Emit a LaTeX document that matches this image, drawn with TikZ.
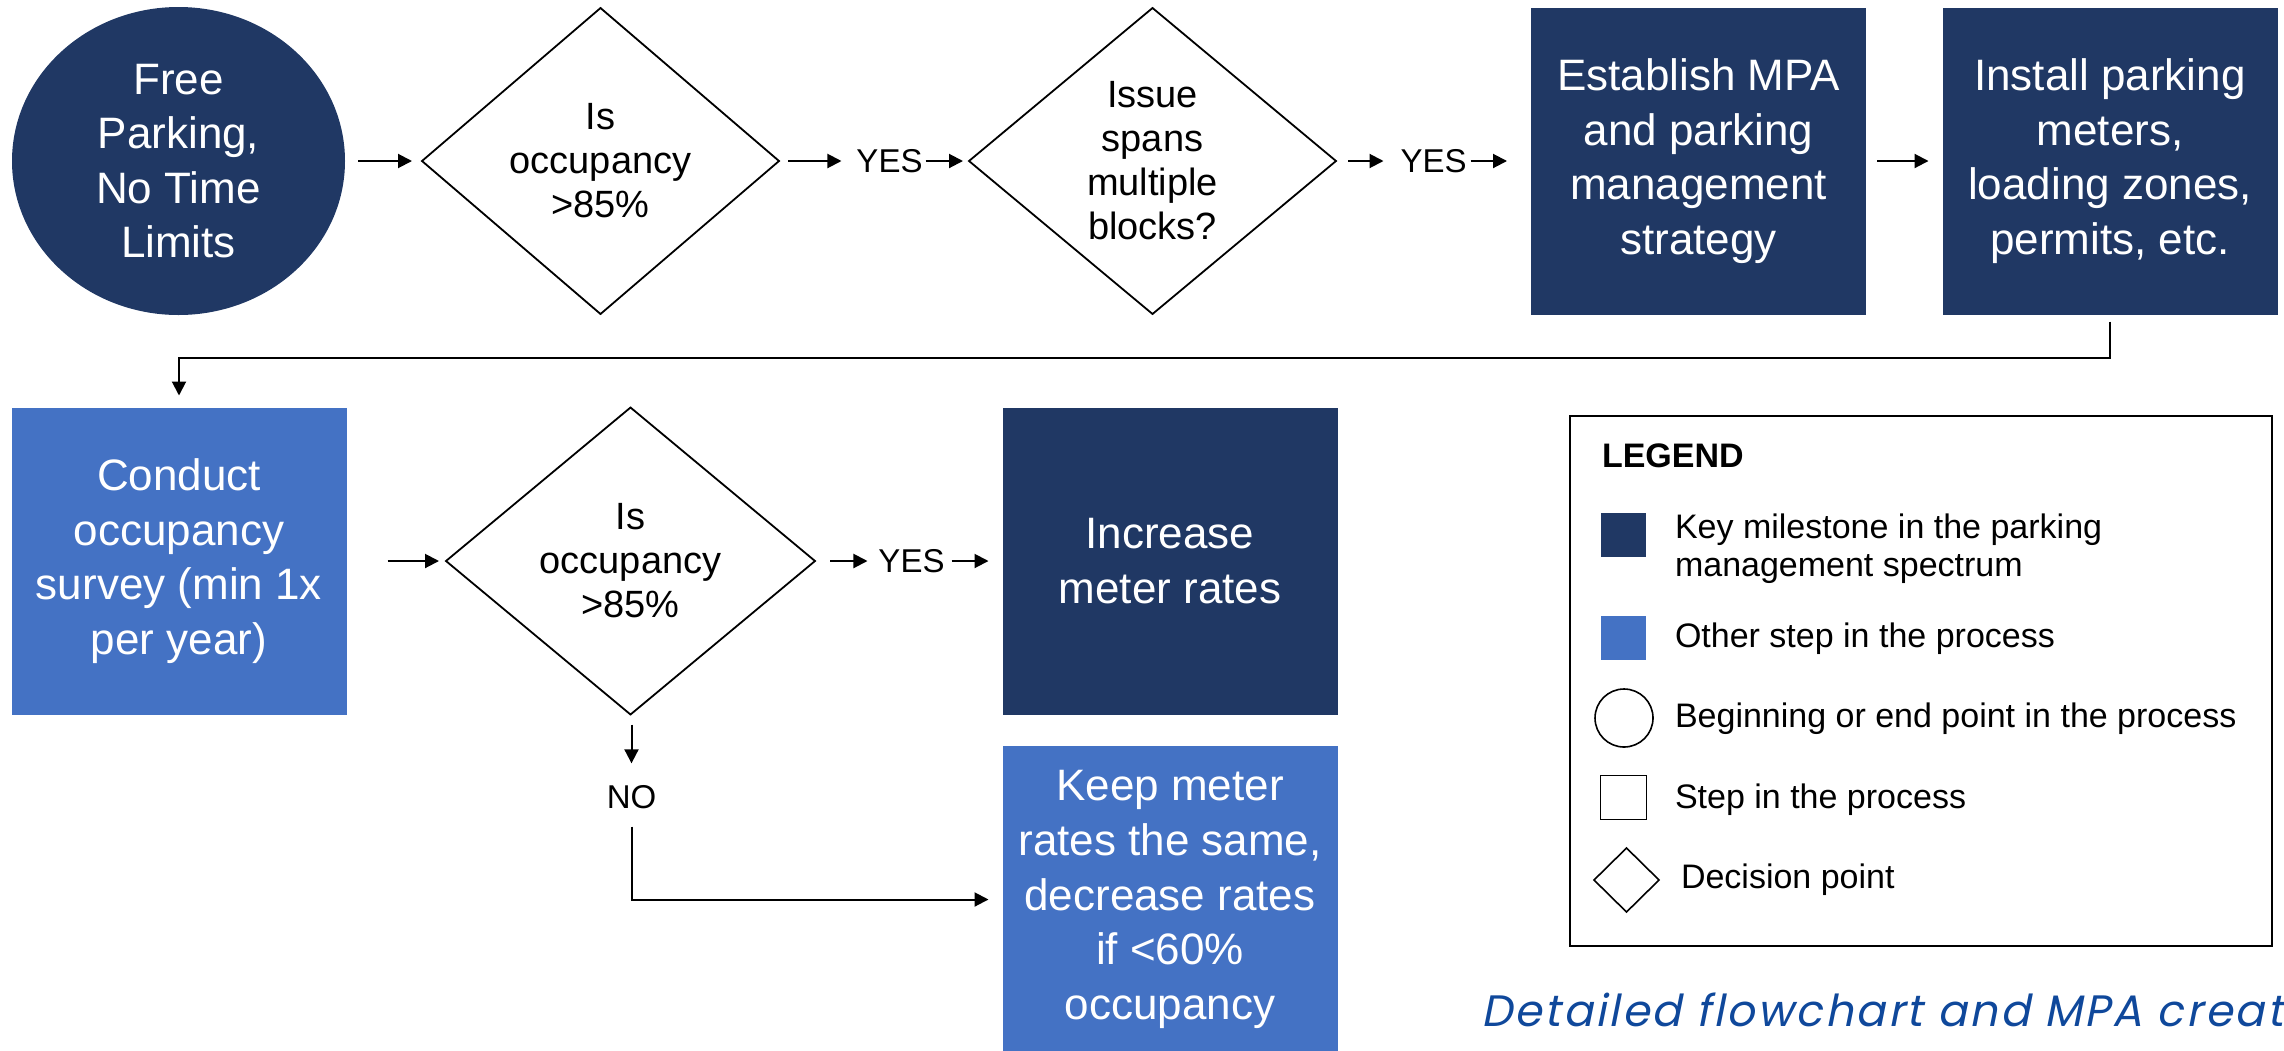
\documentclass[tikz,border=0pt]{standalone}
\usepackage{fontspec}
\setmainfont{Liberation Sans}
\newfontfamily\capfont[FakeSlant=0.2,LetterSpace=5.8]{Poppins}
\usetikzlibrary{shapes.geometric,arrows.meta}
\definecolor{navy}{RGB}{32,56,100}
\definecolor{lblue}{RGB}{68,114,196}
\definecolor{capblue}{RGB}{15,72,155}
\begin{document}
\begin{tikzpicture}[x=0.5pt,y=-0.5pt,
  every node/.style={inner sep=0pt, outer sep=0pt},
  arr/.style={line width=1pt, -{Triangle[length=7pt,width=7pt]}},
  boxtxt/.style={font=\fontsize{22}{27.3}\selectfont, align=center},
  keybox/.style={rectangle, fill=navy, text=white, minimum width=167.5pt, minimum height=153.5pt, boxtxt},
  stepbox/.style={rectangle, fill=lblue, text=white, minimum width=167.5pt, minimum height=153.5pt, boxtxt},
  decision/.style={diamond, draw=black, line width=0.9pt, font=\fontsize{19}{22}\selectfont, align=center},
  lbl/.style={font=\fontsize{16.5}{19}\selectfont},
  legtxt/.style={font=\fontsize{17}{19}\selectfont, align=left, anchor=west},
]
\useasboundingbox (0,0) rectangle (2284,1050);
\clip (0,0) rectangle (2284,1050);

% row 1
\node[ellipse, fill=navy, text=white, minimum width=166.5pt, minimum height=154pt, boxtxt] (start) at (178.5,161) {Free\\Parking,\\No Time\\Limits};
\node[decision, minimum width=178.5pt, minimum height=153pt] (d1) at (600.5,161) {Is\\occupancy\\>85\%};
\node[lbl] (yes1) at (889.5,161) {YES};
\node[decision, minimum width=183.5pt, minimum height=153pt] (d2) at (1152.5,161) {Issue\\spans\\multiple\\blocks?};
\node[lbl] (yes2) at (1433.5,161) {YES};
\node[keybox] (mpa) at (1698.5,161) {Establish MPA\\and parking\\management\\strategy};
\node[keybox] (inst) at (2110,161) {Install parking\\meters,\\loading zones,\\permits, etc.};

\draw[arr, shorten <=6.5pt, shorten >=5pt] (start.east) -- (d1.west);
\draw[arr, shorten <=4.5pt, shorten >=7.5pt] (d1.east) -- (yes1.west);
\draw[arr, shorten <=1.5pt, shorten >=3pt] (yes1.east) -- (d2.west);
\draw[arr, shorten <=6pt, shorten >=8.5pt] (d2.east) -- (yes2.west);
\draw[arr, shorten <=2pt, shorten >=12pt] (yes2.east) -- (mpa.west);
\draw[arr, shorten <=5.5pt, shorten >=7pt] (mpa.east) -- (inst.west);

% row 2
\node[stepbox] (cond) at (179,561) {Conduct\\occupancy\\survey (min 1x\\per year)};
\node[decision, minimum width=184.5pt, minimum height=153.5pt] (d3) at (630.5,561) {Is\\occupancy\\>85\%};
\node[lbl] (yes3) at (911.5,561) {YES};
\node[keybox] (inc) at (1170,561) {Increase\\meter rates};
\node[lbl] (no) at (631.5,797) {NO};
\node[stepbox] (keep) at (1170,899.5) {Keep meter\\rates the same,\\decrease rates\\if <60\%\\occupancy};

\draw[arr, shorten <=3.5pt, shorten >=6pt] (inst.south) |- ([yshift=25pt]cond.north) -- (cond.north);
\draw[arr, shorten <=20.5pt, shorten >=3.5pt] (cond.east) -- (d3.west);
\draw[arr, shorten <=7.5pt, shorten >=5.5pt] (d3.east) -- (yes3.west);
\draw[arr, shorten <=3.5pt, shorten >=7pt] (yes3.east) -- (inc.west);
\draw[arr, shorten <=5pt, shorten >=11pt] (d3.south -| no.north) -- (no.north);
\draw[arr, shorten <=9pt, shorten >=7pt] (no.south) |- (keep.west);

% legend
\node[draw, line width=1.2pt, minimum width=351pt, minimum height=265pt] (legend) at (1921,681) {};
\node[anchor=west, font=\fontsize{17}{19}\selectfont\bfseries] (legtitle) at (1602,456) {LEGEND};
\node[fill=navy, minimum width=22.5pt, minimum height=22pt] (lk1) at (1623.5,535) {};
\node[legtxt] (lt1) at (1675,549) {Key milestone in the parking\\management spectrum};
\node[fill=lblue, minimum width=22.5pt, minimum height=22pt] (lk2) at (1623.5,638) {};
\node[legtxt] (lt2) at (1675,639) {Other step in the process};
\node[circle, draw, line width=0.8pt, minimum size=29pt] (lk3) at (1624,718) {};
\node[legtxt] (lt3) at (1675,719) {Beginning or end point in the process};
\node[draw, line width=0.8pt, minimum width=23pt, minimum height=22pt] (lk4) at (1623.5,797.5) {};
\node[legtxt] (lt4) at (1675,800) {Step in the process};
\node[diamond, draw, line width=0.8pt, minimum width=32.5pt, minimum height=32pt] (lk5) at (1626.5,880) {};
\node[legtxt] (lt5) at (1681,880) {Decision point};

% caption
\node[anchor=base west, text=capblue, font=\capfont\fontsize{22}{26}\selectfont] (cap) at (1481,1026) {Detailed flowchart and MPA creat};
\end{tikzpicture}
\end{document}
